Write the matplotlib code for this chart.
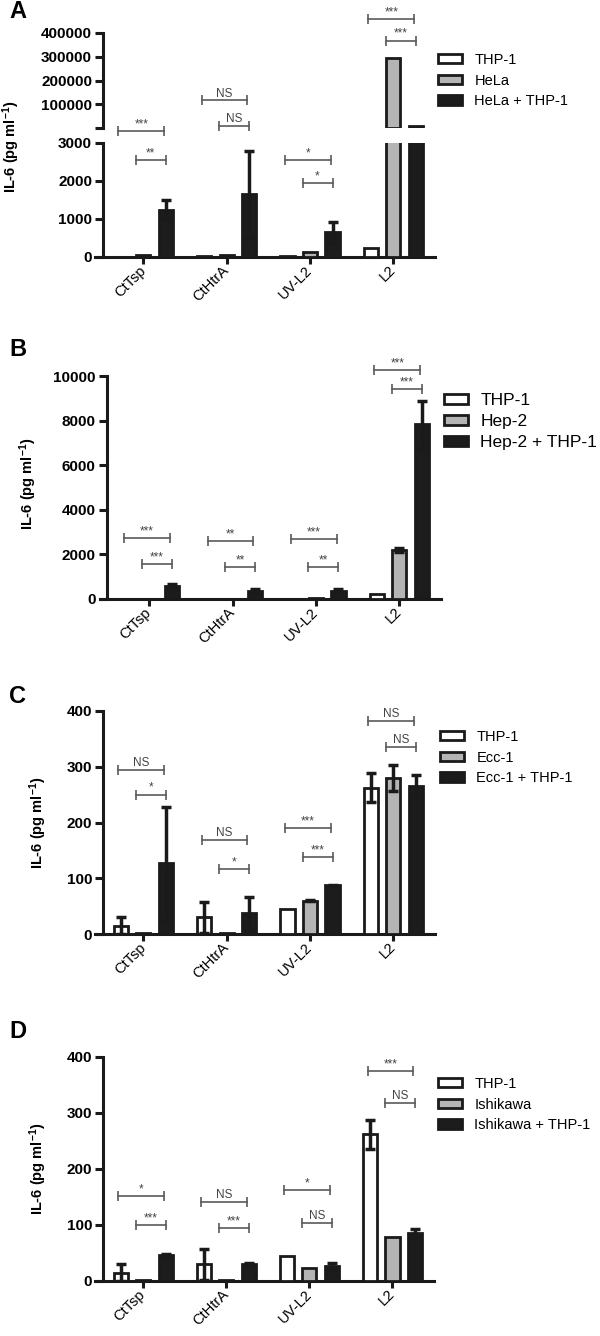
import numpy as np
import matplotlib
matplotlib.use('Agg')
import matplotlib.pyplot as plt

plt.rcParams['font.family'] = ['Liberation Sans', 'DejaVu Sans']
plt.rcParams['mathtext.fontset'] = 'custom'
plt.rcParams['mathtext.rm'] = 'Liberation Sans'
plt.rcParams['mathtext.bf'] = 'Liberation Sans:bold'
plt.rcParams['mathtext.default'] = 'bf'

categories = ['CtTsp', 'CtHtrA', 'UV-L2', 'L2']
ylabel = 'IL-6 (pg ml$^{-1}$)'

# A: HeLa (broken y axis)
a_names = ['THP-1', 'HeLa', 'HeLa + THP-1']
a_thp1 = [10, 20, 30, 230]
a_thp1_err = [0, 0, 0, 0]
a_cell = [40, 40, 120, 295000]
a_cell_err = [0, 0, 0, 0]
a_mix = [1250, 1650, 650, 8000]
a_mix_err = [250, 1150, 270, 0]
a_outer = [3320, 117000, 2550, 457000]
a_outer_txt = ['***', 'NS', '*', '***']
a_inner = [2550, 3450, 1950, 368000]
a_inner_txt = ['**', 'NS', '*', '***']

# B: Hep-2
b_names = ['THP-1', 'Hep-2', 'Hep-2 + THP-1']
b_thp1 = [10, 10, 20, 230]
b_thp1_err = [0, 0, 0, 0]
b_cell = [5, 10, 40, 2200]
b_cell_err = [0, 0, 0, 80]
b_mix = [600, 370, 370, 7850]
b_mix_err = [90, 90, 60, 1050]
b_outer = [2735, 2600, 2690, 10270]
b_outer_txt = ['***', '**', '***', '***']
b_inner = [1570, 1435, 1435, 9420]
b_inner_txt = ['***', '**', '**', '***']

# C: Ecc-1
c_names = ['THP-1', 'Ecc-1', 'Ecc-1 + THP-1']
c_thp1 = [15, 30, 44, 262]
c_thp1_err = [15, 28, 0, 26]
c_cell = [2, 2, 60, 280]
c_cell_err = [0, 0, 1, 24]
c_mix = [127, 37, 87, 265]
c_mix_err = [100, 30, 1, 20]
c_outer = [294, 169, 190, 382]
c_outer_txt = ['NS', 'NS', '***', 'NS']
c_inner = [250, 117, 138, 336]
c_inner_txt = ['*', '*', '***', 'NS']

# D: Ishikawa
d_names = ['THP-1', 'Ishikawa', 'Ishikawa + THP-1']
d_thp1 = [15, 30, 44, 262]
d_thp1_err = [15, 28, 0, 26]
d_cell = [1, 1, 24, 79]
d_cell_err = [0, 0, 0, 0]
d_mix = [46, 30, 27, 85]
d_mix_err = [2, 3, 5, 8]
d_outer = [152, 141, 162, 375]
d_outer_txt = ['*', 'NS', '*', '***']
d_inner = [100, 95, 104, 318]
d_inner_txt = ['***', '***', 'NS', 'NS']

W, H = 600, 1336
fig = plt.figure(figsize=(W / 100, H / 100), dpi=100)

colors = ['white', '#b4b4b4', '#1c1c1c']
edge = '#1a1a1a'
offsets = [-0.27, 0, 0.27]
bar_w = 0.17
x = np.arange(len(categories))


def px_rect(x0, y0, x1, y1):
    return [x0 / W, 1 - y1 / H, (x1 - x0) / W, (y1 - y0) / H]


def setup_axis(ax, xlim, yticks, yfrac=0.024):
    ax.set_xlim(*xlim)
    ax.patch.set_visible(False)
    ax.spines['top'].set_visible(False)
    ax.spines['right'].set_visible(False)
    ax.spines['left'].set_position(('axes', yfrac))
    for s in ['left', 'bottom']:
        ax.spines[s].set_linewidth(2.2)
        ax.spines[s].set_color(edge)
    ax.set_yticks(yticks, [str(t) for t in yticks], fontweight='bold', fontsize=11)
    ax.tick_params(axis='y', direction='out', length=5.5, width=2.2, color=edge, pad=2.5)
    ax.tick_params(axis='x', direction='out', length=5, width=2.2, color=edge, pad=3)


def draw_bars(ax, series, errors, floor=None):
    handles = []
    for i in range(3):
        vals = np.array(series[i], dtype=float)
        keep = np.ones(len(vals), bool) if floor is None else vals > floor
        h = ax.bar(x[keep] + offsets[i], vals[keep], bar_w, color=colors[i], edgecolor=edge,
                   linewidth=2, zorder=3)
        handles.append(h)
        err = np.array(errors[i], dtype=float)
        m = (err > 0) & keep
        if m.any():
            ax.errorbar(x[m] + offsets[i], vals[m], yerr=err[m], fmt='none', ecolor=edge,
                        elinewidth=2.5, capsize=3.5, capthick=2.5, zorder=4)
    return handles


def bracket(ax, xc, lo, hi, y, text):
    ax.plot([xc + lo, xc + hi], [y, y], color='#5a5a5a', lw=1.2, marker='|', ms=7,
            mew=1.2, clip_on=False, zorder=5)
    ax.annotate(text, (xc + (lo + hi) / 2, y), xytext=(0, 0.5), textcoords='offset points',
                ha='center', va='bottom', fontsize=8.5, color='#444444', annotation_clip=False)


def xlabels(ax):
    ax.set_xticks(x, categories, rotation=45, ha='right', va='center',
                  rotation_mode='anchor', fontsize=10.5)


def add_legend(ax, handles, names, top, left, fs, spacing, hl, hh, pad):
    ax.legend(handles, names, loc='upper left', bbox_to_anchor=(left / W, 1 - top / H),
              bbox_transform=fig.transFigure, frameon=False, fontsize=fs, borderpad=0,
              borderaxespad=0, labelspacing=spacing, handlelength=hl, handleheight=hh,
              handletextpad=pad)


def panel_brackets(ax, outer, outer_txt, inner, inner_txt):
    for i in range(len(categories)):
        bracket(ax, x[i], -0.3, 0.25, outer[i], outer_txt[i])
        bracket(ax, x[i], -0.09, 0.27, inner[i], inner_txt[i])


# ---- panel A ----
xlim = (-0.58, 3.5)
axA_lo = fig.add_axes(px_rect(95, 143, 435, 257))
axA_hi = fig.add_axes(px_rect(95, 33, 435, 127.5))
setup_axis(axA_lo, xlim, [0, 1000, 2000, 3000])
axA_lo.set_ylim(0, 3000)
setup_axis(axA_hi, xlim, [3000, 100000, 200000, 300000, 400000])
axA_hi.set_yticklabels(['', '100000', '200000', '300000', '400000'])
axA_hi.set_ylim(3000, 400000)
axA_hi.spines['bottom'].set_visible(False)
axA_hi.set_xticks([])
hA = draw_bars(axA_lo, [a_thp1, a_cell, a_mix], [a_thp1_err, a_cell_err, a_mix_err])
draw_bars(axA_hi, [a_thp1, a_cell, a_mix], [a_thp1_err, a_cell_err, a_mix_err], floor=3000)
for i in range(4):
    for lo, hi, lev, txt in [(-0.3, 0.25, a_outer[i], a_outer_txt[i]),
                             (-0.09, 0.27, a_inner[i], a_inner_txt[i])]:
        ax = axA_lo if lev < 5000 else axA_hi
        bracket(ax, x[i], lo, hi, lev, txt)
xlabels(axA_lo)
axA_lo.set_ylabel(ylabel, fontsize=10.5, fontweight='bold')
axA_lo.yaxis.set_label_coords(-0.215, 0.965)
add_legend(axA_lo, hA, a_names, 53, 438, 10.5, 0.45, 1.65, 0.6, 0.85)
fig.text(9 / W, 1 - 0 / H, 'A', fontsize=17, fontweight='bold', va='top')

# ---- panel B ----
axB = fig.add_axes(px_rect(100, 376, 441, 599))
setup_axis(axB, (-0.59, 3.5), [0, 2000, 4000, 6000, 8000, 10000], 0.02)
axB.set_ylim(0, 10000)
hB = draw_bars(axB, [b_thp1, b_cell, b_mix], [b_thp1_err, b_cell_err, b_mix_err])
panel_brackets(axB, b_outer, b_outer_txt, b_inner, b_inner_txt)
xlabels(axB)
axB.set_ylabel(ylabel, fontsize=10.5, fontweight='bold')
axB.yaxis.set_label_coords(-0.18, 0.516)
add_legend(axB, hB, b_names, 393, 444, 12.5, 0.35, 1.4, 0.55, 0.7)
fig.text(9 / W, 1 - 338 / H, 'B', fontsize=17, fontweight='bold', va='top')

# ---- panel C ----
axC = fig.add_axes(px_rect(95, 711, 435, 934))
setup_axis(axC, (-0.58, 3.5), [0, 100, 200, 300, 400])
axC.set_ylim(0, 400)
hC = draw_bars(axC, [c_thp1, c_cell, c_mix], [c_thp1_err, c_cell_err, c_mix_err])
panel_brackets(axC, c_outer, c_outer_txt, c_inner, c_inner_txt)
xlabels(axC)
axC.set_ylabel(ylabel, fontsize=10.5, fontweight='bold')
axC.yaxis.set_label_coords(-0.135, 0.5)
add_legend(axC, hC, c_names, 730, 440, 10.5, 0.45, 1.65, 0.6, 0.85)
fig.text(9 / W, 1 - 685 / H, 'C', fontsize=17, fontweight='bold', va='top')

# ---- panel D ----
axD = fig.add_axes(px_rect(95, 1057, 434, 1281))
setup_axis(axD, (-0.58, 3.5), [0, 100, 200, 300, 400])
axD.set_ylim(0, 400)
hD = draw_bars(axD, [d_thp1, d_cell, d_mix], [d_thp1_err, d_cell_err, d_mix_err])
panel_brackets(axD, d_outer, d_outer_txt, d_inner, d_inner_txt)
xlabels(axD)
axD.set_ylabel(ylabel, fontsize=10.5, fontweight='bold')
axD.yaxis.set_label_coords(-0.135, 0.5)
add_legend(axD, hD, d_names, 1077, 438, 10.5, 0.45, 1.65, 0.6, 0.85)
fig.text(9 / W, 1 - 1020 / H, 'D', fontsize=17, fontweight='bold', va='top')

fig.savefig('out.png', dpi=100)
